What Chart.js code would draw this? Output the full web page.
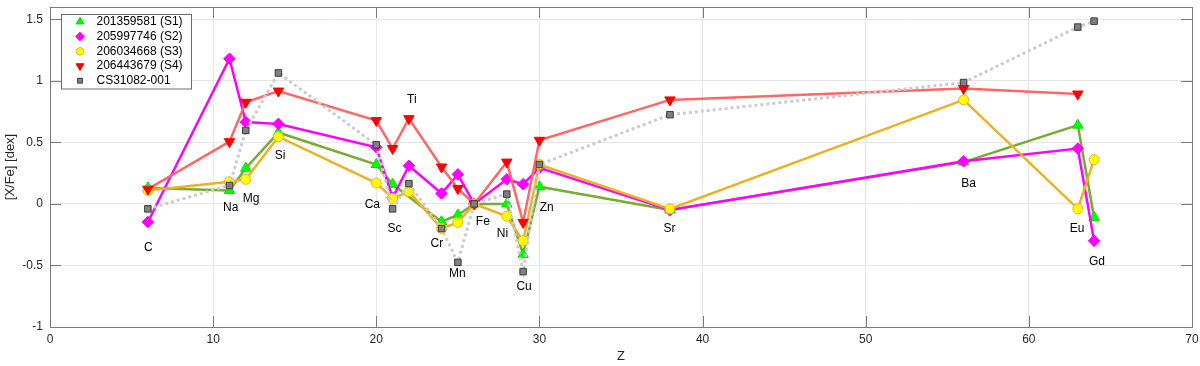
<!DOCTYPE html>
<html>
<head>
<meta charset="utf-8">
<script src="https://cdn.jsdelivr.net/npm/chart.js@4/dist/chart.umd.min.js"></script>
<style>
  html, body { margin: 0; padding: 0; background: #ffffff; }
  #wrap { width: 1200px; height: 366px; }
</style>
</head>
<body>
<div id="wrap"><canvas id="c" width="1200" height="366"></canvas></div>
<script>
// ---------- data ----------
const elements = ['C','Na','Mg','Si','Ca','Sc','Ti','Cr','Mn','Fe','Ni','Cu','Zn','Sr','Ba','Eu','Gd'];
const Z        = [6, 11, 12, 14, 20, 21, 22, 24, 25, 26, 28, 29, 30, 38, 56, 63, 64];

const s1 = [0.13, 0.11, 0.29, 0.58, 0.32, 0.16, null, -0.145, -0.09, 0, 0.00, -0.41, 0.14, -0.05, 0.34, 0.64, -0.11];
const s2 = [-0.147, 1.18, 0.666, 0.65, 0.46, 0.05, 0.31, 0.085, 0.24, 0, 0.20, 0.16, 0.293, -0.05, 0.346, 0.45, -0.30];
const s3 = [0.11, 0.18, 0.20, 0.546, 0.17, 0.045, 0.10, -0.20, -0.15, 0, -0.10, -0.30, 0.32, -0.04, 0.845, -0.04, 0.36];
const s4 = [0.12, 0.506, 0.826, 0.917, 0.677, 0.45, 0.693, 0.30, 0.125, 0, 0.34, -0.15, 0.517, 0.845, 0.938, 0.893, null];
const cs = [-0.04, 0.15, 0.597, 1.064, 0.48, -0.04, 0.165, -0.20, -0.475, 0, 0.08, -0.55, 0.32, 0.725, 0.986, 1.437, 1.485];

const seriesNames = ['201359581 (S1)', '205997746 (S2)', '206034668 (S3)', '206443679 (S4)', 'CS31082-001'];

// element label anchor positions (data units)
const labelZ = [6.03, 11.08, 12.32, 14.10, 19.76, 21.11, 22.18, 23.71, 24.97, 26.53, 27.73, 29.06, 30.45, 37.97, 56.30, 62.95, 64.17];
const labelV = [-0.355, -0.027, 0.045, 0.392, -0.008, -0.20, 0.845, -0.323, -0.563, -0.142, -0.243, -0.67, -0.027, -0.203, 0.165, -0.203, -0.467];

const xTicks = [0, 10, 20, 30, 40, 50, 60, 70];
const yTicks = [-1, -0.5, 0, 0.5, 1, 1.5];

// ---------- build ----------
function pts(arr) {
  return Z.map((z, i) => ({ x: z, y: arr[i] })).filter(p => p.y !== null);
}

const styles = [
  { line: '#77AC30', fill: '#00FF00', edge: '#00DD00', ps: 'triangle', rot: 0,   r: 6,   dash: [], lw: 2.5, order: 4 },
  { line: '#FF00FF', fill: '#FF00FF', edge: '#FF00FF', ps: 'rectRot',  rot: 0,   r: 5.8, dash: [], lw: 2.5, order: 3 },
  { line: '#EDB120', fill: '#FFFF00', edge: '#EDB120', ps: 'circle',   rot: 0,   r: 5,   dash: [], lw: 2.5, order: 2 },
  { line: '#FF6666', fill: '#FF0000', edge: '#FF0000', ps: 'triangle', rot: 180, r: 6,   dash: [], lw: 2.5, order: 1 },
  { line: '#CCCCCC', fill: '#808080', edge: '#3a3a3a', ps: 'rect',     rot: 0,   r: 4.6, dash: [3, 3], lw: 3, order: 0 }
];
const allSeries = [s1, s2, s3, s4, cs];

const datasets = allSeries.map((s, i) => ({
  label: seriesNames[i],
  data: pts(s),
  showLine: true,
  borderColor: styles[i].line,
  borderWidth: styles[i].lw,
  borderDash: styles[i].dash,
  backgroundColor: styles[i].fill,
  pointBackgroundColor: styles[i].fill,
  pointBorderColor: styles[i].edge,
  pointBorderWidth: 1,
  pointStyle: styles[i].ps,
  pointRotation: styles[i].rot,
  pointRadius: styles[i].r,
  pointHoverRadius: styles[i].r,
  tension: 0,
  order: styles[i].order
}));

const FONT = '"Liberation Sans", Arial, Helvetica, sans-serif';
const AXIS = '#7a7a7a';

const deco = {
  id: 'deco',
  afterDatasetsDraw(chart) {
    const ctx = chart.ctx, xs = chart.scales.x, ys = chart.scales.y;
    ctx.save();
    ctx.fillStyle = '#000';
    ctx.font = '12px ' + FONT;
    ctx.textAlign = 'center';
    ctx.textBaseline = 'middle';
    elements.forEach((el, i) => {
      ctx.fillText(el, xs.getPixelForValue(labelZ[i]), ys.getPixelForValue(labelV[i]));
    });
    ctx.restore();
  },
  afterDraw(chart) {
    const ctx = chart.ctx, a = chart.chartArea, xs = chart.scales.x, ys = chart.scales.y;
    ctx.save();
    // box
    ctx.strokeStyle = AXIS;
    ctx.lineWidth = 1;
    ctx.strokeRect(Math.round(a.left) + 0.5, Math.round(a.top) + 0.5,
                   Math.round(a.right - a.left), Math.round(a.bottom - a.top));
    // inward ticks
    const tl = 11;
    ctx.beginPath();
    xTicks.forEach(v => {
      const px = Math.round(xs.getPixelForValue(v)) + 0.5;
      ctx.moveTo(px, a.bottom); ctx.lineTo(px, a.bottom - tl);
      ctx.moveTo(px, a.top); ctx.lineTo(px, a.top + tl);
    });
    yTicks.forEach(v => {
      const py = Math.round(ys.getPixelForValue(v)) + 0.5;
      ctx.moveTo(a.left, py); ctx.lineTo(a.left + tl, py);
      ctx.moveTo(a.right, py); ctx.lineTo(a.right - tl, py);
    });
    ctx.stroke();

    // axis titles
    ctx.fillStyle = '#262626';
    ctx.font = '13px ' + FONT;
    ctx.textAlign = 'center';
    ctx.textBaseline = 'middle';
    ctx.fillText('Z', (a.left + a.right) / 2, 356);
    ctx.save();
    ctx.translate(10, (a.top + a.bottom) / 2);
    ctx.rotate(-Math.PI / 2);
    ctx.fillText('[X/Fe] [dex]', 0, 0);
    ctx.restore();

    // legend
    const lx = 61.5, ly = 14.5, lw = 130, lh = 74.5;
    ctx.fillStyle = '#ffffff';
    ctx.fillRect(lx, ly, lw, lh);
    ctx.strokeStyle = '#6a6a6a';
    ctx.lineWidth = 1;
    ctx.strokeRect(lx, ly, lw, lh);
    const rowY = [21.7, 36.6, 51.3, 66.0, 80.7];
    seriesNames.forEach((name, i) => {
      const st = styles[i];
      ctx.fillStyle = st.fill;
      ctx.strokeStyle = st.edge;
      ctx.lineWidth = 1;
      Chart.helpers.drawPoint(ctx, { pointStyle: st.ps, rotation: st.rot, radius: st.r * 0.75, borderWidth: 1 }, 80, rowY[i]);
      ctx.fillStyle = '#000';
      ctx.font = '12px ' + FONT;
      ctx.textAlign = 'left';
      ctx.textBaseline = 'middle';
      ctx.fillText(name, 96.5, rowY[i]);
    });
    ctx.restore();
  }
};

new Chart(document.getElementById('c'), {
  type: 'scatter',
  data: { datasets },
  options: {
    responsive: false,
    animation: false,
    devicePixelRatio: 1,
    layout: { padding: { top: 3, right: 8, left: 0, bottom: 0 } },
    plugins: { legend: { display: false }, tooltip: { enabled: false } },
    scales: {
      x: {
        type: 'linear', min: 0, max: 70,
        afterBuildTicks: s => { s.ticks = xTicks.map(v => ({ value: v })); },
        afterFit: s => { s.height = 39; s.paddingLeft = 0; s.paddingRight = 0; },
        ticks: { color: '#262626', font: { size: 12, family: FONT }, padding: 5, maxRotation: 0, callback: v => String(v) },
        grid: { color: '#e6e6e6', drawTicks: false },
        border: { display: false }
      },
      y: {
        type: 'linear', min: -1, max: 1.6,
        afterBuildTicks: s => { s.ticks = yTicks.map(v => ({ value: v })); },
        afterFit: s => { s.width = 50; s.paddingTop = 0; s.paddingBottom = 0; },
        ticks: { color: '#262626', font: { size: 12, family: FONT }, padding: 7, callback: v => String(v) },
        grid: { color: '#e6e6e6', drawTicks: false },
        border: { display: false }
      }
    }
  },
  plugins: [deco]
});
</script>
</body>
</html>
